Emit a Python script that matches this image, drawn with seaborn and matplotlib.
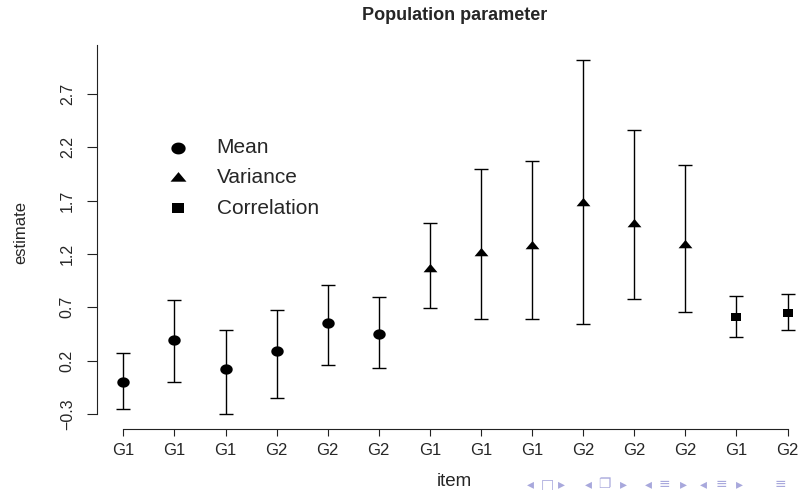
import numpy as np
import pandas as pd
import matplotlib
matplotlib.use("Agg")
import matplotlib.pyplot as plt
import seaborn as sns

# ---- data ----
item_labels = ["G1", "G1", "G1", "G2", "G2", "G2", "G1", "G1", "G1", "G2", "G2", "G2", "G1", "G2"]
param_type = ["Mean"] * 6 + ["Variance"] * 6 + ["Correlation"] * 2
estimate = [0.00, 0.39, 0.12, 0.29, 0.55, 0.45, 1.06, 1.21, 1.27, 1.68, 1.48, 1.28, 0.61, 0.65]
lower = [-0.25, 0.00, -0.30, -0.15, 0.16, 0.13, 0.69, 0.59, 0.59, 0.54, 0.78, 0.66, 0.42, 0.49]
upper = [0.27, 0.77, 0.49, 0.67, 0.91, 0.80, 1.49, 2.00, 2.07, 3.02, 2.36, 2.03, 0.81, 0.82]
ytick_values = [-0.3, 0.2, 0.7, 1.2, 1.7, 2.2, 2.7]
ytick_labels = ["\u22120.3", "0.2", "0.7", "1.2", "1.7", "2.2", "2.7"]

df = pd.DataFrame({
    "pos": np.arange(1, len(estimate) + 1),
    "estimate": estimate,
    "lower": lower,
    "upper": upper,
    "type": param_type,
})

sns.set_style("ticks")
plt.rcParams["font.family"] = ["Liberation Sans", "DejaVu Sans"]

W, H = 803, 490
fig = plt.figure(figsize=(W / 100, H / 100), dpi=100)
# axes region in pixel units (left 97, right 814, bottom 429, top 45)
ax = fig.add_axes([97 / W, (H - 429) / H, (814 - 97) / W, (429 - 45) / H])

# marker shapes (R-like, slightly wide)
t = np.linspace(0, 2 * np.pi, 48)
ellipse = list(zip(np.cos(t), 0.83 * np.sin(t)))
tri = [(0, 0.8), (-1, -0.4), (1, -0.4), (0, 0.8)]
sq = [(-1, -0.8), (1, -0.8), (1, 0.8), (-1, 0.8), (-1, -0.8)]
markers = {"Mean": ellipse, "Variance": tri, "Correlation": sq}
sizes = {"Mean": 80, "Variance": 100, "Correlation": 60}

ax.errorbar(df["pos"], df["estimate"],
            yerr=[df["estimate"] - df["lower"], df["upper"] - df["estimate"]],
            fmt="none", ecolor="black", elinewidth=1.0, capsize=4.7, capthick=1.0, zorder=2)

for k in ["Mean", "Variance", "Correlation"]:
    sub = df[df["type"] == k]
    sns.scatterplot(data=sub, x="pos", y="estimate", marker=markers[k], s=sizes[k],
                    color="black", edgecolor="black", linewidth=0, ax=ax, label=k, zorder=3)

ax.set_xlim(0.485, 14.517)
ax.set_ylim(-0.4406, 3.158)

ax.set_xticks(df["pos"])
ax.set_xticklabels(item_labels)
ax.set_yticks(ytick_values)
ax.set_yticklabels(ytick_labels, rotation=90, va="center")

for s in ["top", "right"]:
    ax.spines[s].set_visible(False)
ax.spines["left"].set_bounds(-0.3, 3.158)
ax.spines["bottom"].set_bounds(1, 14)
for s in ["left", "bottom"]:
    ax.spines[s].set_linewidth(0.8)
    ax.spines[s].set_color("#222222")

ax.tick_params(axis="x", length=5, width=0.8, pad=5, labelsize=12, color="#222222")
ax.tick_params(axis="y", length=7, width=0.8, pad=9, labelsize=11.5, color="#222222")
ax.set_xlabel("")
ax.set_ylabel("")
ax.patch.set_alpha(0)

fs = 15
fspx = fs * 100 / 72
ax.legend(loc="upper left", bbox_to_anchor=((178 - fspx / 2) / W, 1 - 138 / H),
          bbox_transform=fig.transFigure, frameon=False, fontsize=fs,
          handlelength=1.0, handletextpad=1.35, borderpad=0, borderaxespad=0,
          labelspacing=0.55, markerscale=1.15)

fig.text(455 / W, 1 - 15 / H, "Population parameter", ha="center", va="center",
         fontsize=13, fontweight="bold")
fig.text(20.5 / W, 1 - 233 / H, "estimate", rotation=90, ha="center", va="center", fontsize=12)
fig.text(454 / W, 1 - 481 / H, "item", ha="center", va="center", fontsize=13.5)

# beamer navigation symbols
nav_syms = ["\u25c2", "\u25a1", "\u25b8", "\u25c2", "\u2750", "\u25b8",
            "\u25c2", "\u2261", "\u25b8", "\u25c2", "\u2261", "\u25b8", "\u2261"]
nav_x = [530, 547, 561, 588, 604, 623, 648, 664, 683, 703, 721, 739, 780]
for sym, xx in zip(nav_syms, nav_x):
    fig.text(xx / W, 1 - 484 / H, sym, ha="center", va="center", fontsize=10,
             color="#a8a8dc", family=["DejaVu Sans"])

fig.savefig("out.png", dpi=100)
